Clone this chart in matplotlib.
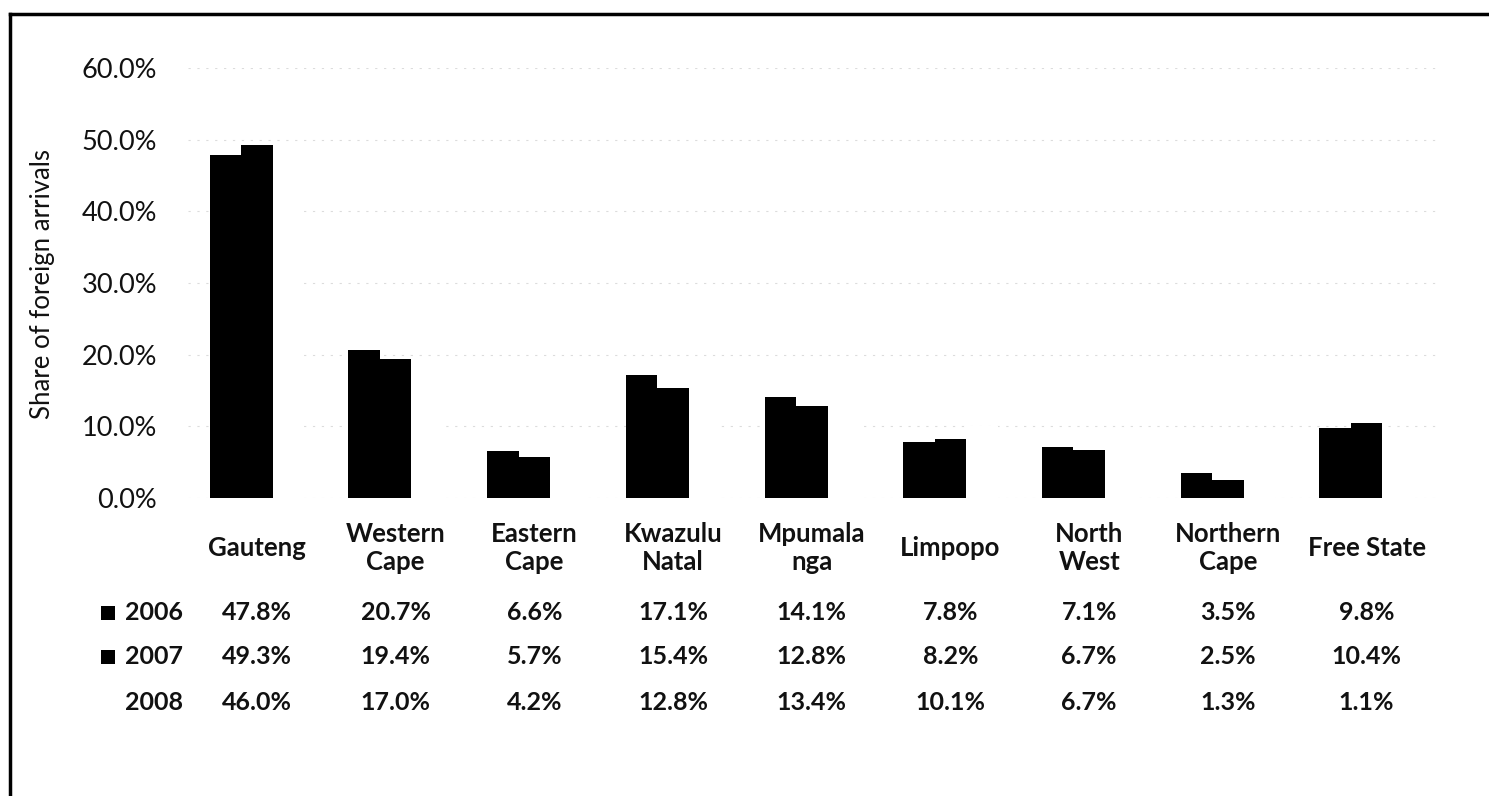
import matplotlib
matplotlib.use("Agg")
import matplotlib.pyplot as plt
from matplotlib.lines import Line2D
from matplotlib.patches import Rectangle
import matplotlib.transforms as mtrans
import numpy as np

categories = ["Gauteng", "Western\nCape", "Eastern\nCape", "Kwazulu\nNatal",
              "Mpumala\nnga", "Limpopo", "North\nWest", "Northern\nCape", "Free State"]
series_names = ["2006", "2007", "2008"]
v2006 = [47.8, 20.7, 6.6, 17.1, 14.1, 7.8, 7.1, 3.5, 9.8]
v2007 = [49.3, 19.4, 5.7, 15.4, 12.8, 8.2, 6.7, 2.5, 10.4]
v2008 = [46.0, 17.0, 4.2, 12.8, 13.4, 10.1, 6.7, 1.3, 1.1]
yticks = [0, 10, 20, 30, 40, 50, 60]
series = [v2006, v2007, v2008]
colors = ["#000000", "#000000", "#ffffff"]

plt.rcParams['font.family'] = ['Lato', 'DejaVu Sans']

W, H = 1489, 796
fig = plt.figure(figsize=(W / 100, H / 100), dpi=100)
fig.patch.set_facecolor("white")

# axes in pixel coords
x0, x1 = 187.6, 1436.0
y_top, y_bot = 68.0, 498.0
ax = fig.add_axes([x0 / W, 1 - y_bot / H, (x1 - x0) / W, (y_bot - y_top) / H])
ax.set_xlim(-0.5, len(categories) - 0.5)
ax.set_ylim(0, 60)

x = np.arange(len(categories))
bw = 0.227
for i, (vals, c) in enumerate(zip(series, colors)):
    ax.bar(x + (i - 1) * bw, vals, width=bw, color=c, edgecolor=c, linewidth=0, zorder=3)

for s in ax.spines.values():
    s.set_visible(False)
ax.set_yticks(yticks)
ax.set_yticklabels([f"{t:.1f}%" for t in yticks], fontsize=19.5, color="#111111")
ax.tick_params(axis="y", length=0, pad=22)
ax.set_xticks([])
ax.yaxis.grid(True, color="#dcdcdc", linestyle=(0, (2, 6)), linewidth=0.8, zorder=0)
ax.set_axisbelow(True)

fig.text(43 / W, 1 - 284 / H, "Share of foreign arrivals", rotation=90,
         ha="center", va="center", fontsize=18.5, color="#111111")

# category labels and data table
trans = mtrans.blended_transform_factory(ax.transData, fig.transFigure)
for xi, cat in zip(x, categories):
    ax.text(xi, 1 - 548 / H, cat, transform=trans, ha="center", va="center",
            fontsize=18.5, fontweight="bold", color="#111111", linespacing=1.2)

row_y = [613, 657, 702]
for vals, yy in zip(series, row_y):
    for xi, v in zip(x, vals):
        ax.text(xi, 1 - yy / H, f"{v:.1f}%", transform=trans, ha="center", va="center",
                fontsize=18, fontweight="bold", color="#111111")

# row headers with legend keys
for name, c, yy in zip(series_names, colors, row_y):
    fig.text(125 / W, 1 - yy / H, name, ha="left", va="center",
             fontsize=18, fontweight="bold", color="#111111")
    fig.patches.append(Rectangle((101 / W, 1 - (yy + 7) / H), 14 / W, 14 / H,
                                 transform=fig.transFigure, facecolor=c,
                                 edgecolor="none", figure=fig))

# outer frame (left and top)
fig.add_artist(Line2D([10 / W, 10 / W], [0, 1 - 14 / H], transform=fig.transFigure,
                      color="black", linewidth=2.5))
fig.add_artist(Line2D([10 / W, 1], [1 - 14 / H, 1 - 14 / H], transform=fig.transFigure,
                      color="black", linewidth=2.5))

fig.savefig("out.png", dpi=100)
